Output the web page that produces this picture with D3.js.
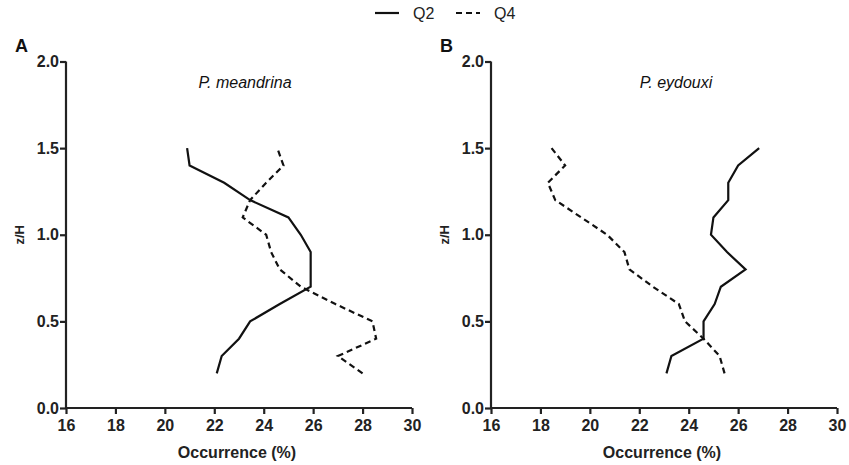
<!DOCTYPE html>
<html>
<head>
<meta charset="utf-8">
<script src="https://cdn.jsdelivr.net/npm/d3@7"></script>
<style>
  body { margin: 0; background: #fff; }
  svg { font-family: "Liberation Sans", Arial, sans-serif; }
  .tick text { font-size: 16px; font-weight: bold; fill: #222; }
</style>
</head>
<body>
<div id="chart"></div>
<script>
const width = 849, height = 465;

// heights (z/H) shared by all series
const zLevels = [0.2, 0.3, 0.4, 0.5, 0.6, 0.7, 0.8, 0.9, 1.0, 1.1, 1.2, 1.3, 1.4, 1.5];

// P. meandrina
const meandrinaQ2 = [22.1, 22.3, 23.0, 23.45, 24.65, 25.9, 25.9, 25.9, 25.5, 25.0, 23.45, 22.4, 21.0, 20.9];
const meandrinaQ4 = [28.0, 27.0, 28.55, 28.4, 26.9, 25.5, 24.65, 24.3, 24.1, 23.15, 23.45, 24.1, 24.8, 24.55];

// P. eydouxi
const eydouxiQ2 = [23.1, 23.3, 24.6, 24.6, 25.05, 25.3, 26.3, 25.55, 24.9, 25.0, 25.6, 25.6, 26.0, 26.85];
const eydouxiQ4 = [25.45, 25.25, 24.6, 23.85, 23.6, 22.55, 21.6, 21.4, 20.7, 19.65, 18.6, 18.3, 19.0, 18.45];

const xTicks = [16, 18, 20, 22, 24, 26, 28, 30];
const yTicks = [0.0, 0.5, 1.0, 1.5, 2.0];

const panels = [
  { letter: "A", title: "P. meandrina", q2: meandrinaQ2, q4: meandrinaQ4, left: 66, titleX: 245 },
  { letter: "B", title: "P. eydouxi", q2: eydouxiQ2, q4: eydouxiQ4, left: 491, titleX: 676 }
];

const svg = d3.select("#chart").append("svg")
  .attr("width", width)
  .attr("height", height);

const plotTop = 61.5, plotBottom = 408, plotW = 346;
const y = d3.scaleLinear().domain([0, 2]).range([plotBottom, plotTop]);

panels.forEach(p => {
  const x = d3.scaleLinear().domain([16, 30]).range([p.left, p.left + plotW]);
  const g = svg.append("g");

  const xAxis = g.append("g")
    .attr("transform", `translate(0,${plotBottom})`)
    .call(d3.axisBottom(x).tickValues(xTicks).tickSize(6).tickPadding(6).tickFormat(d3.format("d")));
  const yAxis = g.append("g")
    .attr("transform", `translate(${p.left},0)`)
    .call(d3.axisLeft(y).tickValues(yTicks).tickSize(6).tickPadding(1).tickFormat(d3.format(".1f")));
  [xAxis, yAxis].forEach(a => {
    a.select(".domain").attr("stroke", "#222").attr("stroke-width", 2.2);
    a.selectAll(".tick line").attr("stroke", "#222").attr("stroke-width", 2.2);
  });
  xAxis.select(".domain").attr("d", `M${p.left},0H${p.left + plotW}`);
  yAxis.select(".domain").attr("d", `M0,${plotBottom}V${plotTop}`);

  const line = d3.line()
    .x(d => x(d[0]))
    .y(d => y(d[1]));

  g.append("path")
    .datum(d3.zip(p.q2, zLevels))
    .attr("fill", "none")
    .attr("stroke", "#111")
    .attr("stroke-width", 2.2)
    .attr("d", line);
  g.append("path")
    .datum(d3.zip(p.q4, zLevels))
    .attr("fill", "none")
    .attr("stroke", "#111")
    .attr("stroke-width", 2.2)
    .attr("stroke-dasharray", "6,4")
    .attr("d", line);

  g.append("text")
    .attr("x", p.left - 51)
    .attr("y", 52)
    .attr("font-size", 18)
    .attr("font-weight", "bold")
    .attr("fill", "#111")
    .text(p.letter);

  g.append("text")
    .attr("x", p.titleX)
    .attr("y", 88)
    .attr("text-anchor", "middle")
    .attr("font-size", 16)
    .attr("font-style", "italic")
    .attr("fill", "#111")
    .text(p.title);

  g.append("text")
    .attr("x", p.left + 171)
    .attr("y", 458)
    .attr("text-anchor", "middle")
    .attr("font-size", 16)
    .attr("font-weight", "bold")
    .attr("fill", "#222")
    .text("Occurrence (%)");

  g.append("text")
    .attr("transform", `translate(${p.left - 42},${y(1)}) rotate(-90)`)
    .attr("text-anchor", "middle")
    .attr("font-size", 13)
    .attr("font-weight", "bold")
    .attr("fill", "#222")
    .text("z/H");
});

// legend
const legend = svg.append("g").attr("transform", "translate(0,13)");
const legendItems = [
  { label: "Q2", dash: null, x: 375 },
  { label: "Q4", dash: "6,4", x: 456 }
];
legendItems.forEach(item => {
  legend.append("line")
    .attr("x1", item.x).attr("x2", item.x + 24)
    .attr("y1", 0).attr("y2", 0)
    .attr("stroke", "#111")
    .attr("stroke-width", 2.2)
    .attr("stroke-dasharray", item.dash);
  legend.append("text")
    .attr("x", item.x + 38)
    .attr("y", 6)
    .attr("font-size", 16)
    .attr("fill", "#222")
    .text(item.label);
});
</script>
</body>
</html>
